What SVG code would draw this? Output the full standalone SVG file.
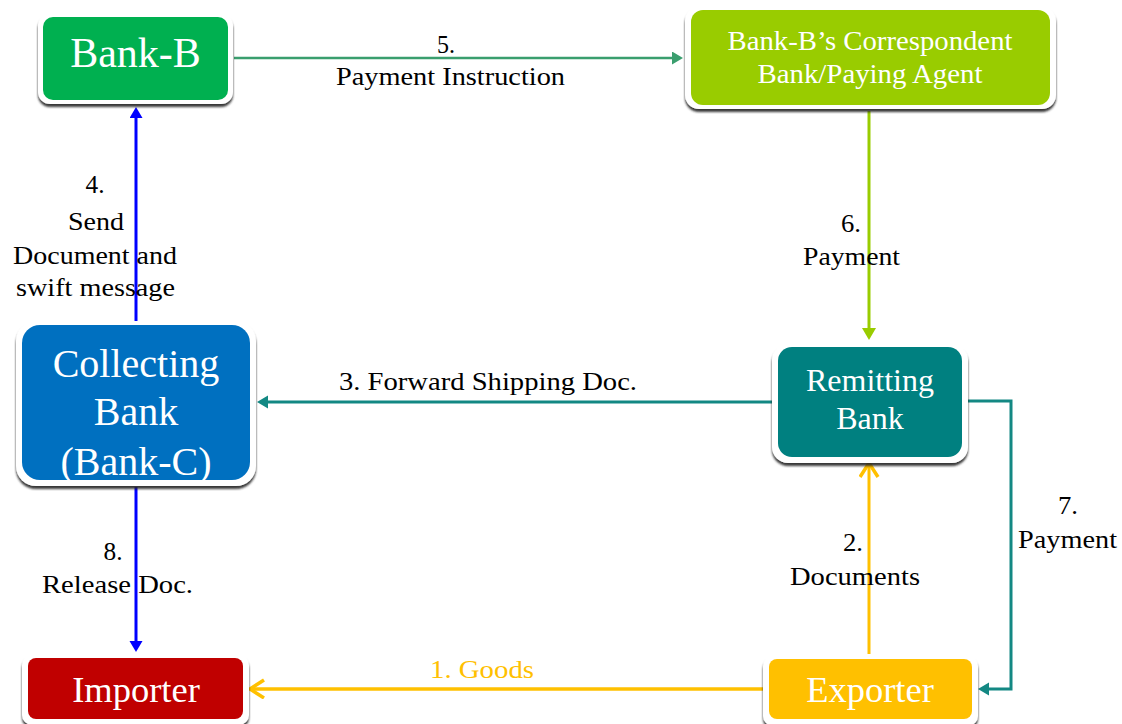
<svg xmlns="http://www.w3.org/2000/svg" width="1122" height="724" viewBox="0 0 1122 724">
<style>
text{font-family:"Liberation Serif","Times New Roman",serif;text-anchor:middle}
.nt{fill:#fff}
.lb{fill:#000;font-size:26px}
.frame{fill:#fff;filter:url(#sh)}
.c{fill:none}
</style>
<defs>
<filter id="sh" x="-10%" y="-10%" width="120%" height="130%">
<feDropShadow dx="0" dy="3" stdDeviation="1.2" flood-color="#222" flood-opacity="0.9"/>
</filter>
<marker id="aGreen" markerUnits="userSpaceOnUse" markerWidth="14" markerHeight="14" refX="7" refY="6.5" orient="auto"><path d="M0,0 L11,6.5 L0,13 z" fill="#3A9E6E"/></marker>
<marker id="aBlue" markerUnits="userSpaceOnUse" markerWidth="14" markerHeight="14" refX="7" refY="6.5" orient="auto"><path d="M0,0 L11,6.5 L0,13 z" fill="#0000FF"/></marker>
<marker id="aLime" markerUnits="userSpaceOnUse" markerWidth="16" markerHeight="16" refX="8" refY="7" orient="auto"><path d="M0,0 L12,7 L0,14 z" fill="#99CC00"/></marker>
<marker id="aTeal" markerUnits="userSpaceOnUse" markerWidth="14" markerHeight="14" refX="7" refY="6.5" orient="auto"><path d="M0,0 L11,6.5 L0,13 z" fill="#138883"/></marker>
<marker id="aGold" markerUnits="userSpaceOnUse" markerWidth="22" markerHeight="22" refX="15" refY="10" orient="auto"><path d="M1,1 L15,10 L1,19" fill="none" stroke="#FFC000" stroke-width="3.5"/></marker>
</defs>
<rect width="1122" height="724" fill="#fff"/>

<g id="connectors" class="c">
<path id="c5" d="M234 58 H679" stroke="#3A9E6E" stroke-width="2.5" marker-end="url(#aGreen)"/>
<path id="c4" d="M136 321 V111" stroke="#0000FF" stroke-width="3" marker-end="url(#aBlue)"/>
<path id="c6" d="M869 111 V336" stroke="#99CC00" stroke-width="3" marker-end="url(#aLime)"/>
<path id="c3" d="M772 402 H261" stroke="#138883" stroke-width="3" marker-end="url(#aTeal)"/>
<path id="c7" d="M968 401 H1011 V689 H982" stroke="#138883" stroke-width="3" marker-end="url(#aTeal)"/>
<path id="c2" d="M869 654 V463" stroke="#FFC000" stroke-width="3" marker-end="url(#aGold)"/>
<path id="c8" d="M136 487 V648" stroke="#0000FF" stroke-width="3" marker-end="url(#aBlue)"/>
<path id="c1" d="M763 689 H250" stroke="#FFC000" stroke-width="3.5" marker-end="url(#aGold)"/>
</g>

<g id="labels">
<text class="lb" x="446" y="53" textLength="18" lengthAdjust="spacingAndGlyphs">5.</text>
<text class="lb" x="450.5" y="85" textLength="229" lengthAdjust="spacingAndGlyphs">Payment Instruction</text>
<text class="lb" x="95" y="193" textLength="19" lengthAdjust="spacingAndGlyphs">4.</text>
<text class="lb" x="96" y="230" textLength="56" lengthAdjust="spacingAndGlyphs">Send</text>
<text class="lb" x="95" y="264" textLength="164" lengthAdjust="spacingAndGlyphs">Document and</text>
<text class="lb" x="95.5" y="296" textLength="159" lengthAdjust="spacingAndGlyphs">swift message</text>
<text class="lb" x="851" y="232" textLength="20" lengthAdjust="spacingAndGlyphs">6.</text>
<text class="lb" x="851.5" y="265" textLength="97" lengthAdjust="spacingAndGlyphs">Payment</text>
<text class="lb" x="488" y="390" textLength="298" lengthAdjust="spacingAndGlyphs">3. Forward Shipping Doc.</text>
<text class="lb" x="1068" y="514" textLength="20" lengthAdjust="spacingAndGlyphs">7.</text>
<text class="lb" x="1067.5" y="548" textLength="99" lengthAdjust="spacingAndGlyphs">Payment</text>
<text class="lb" x="853" y="551" textLength="20" lengthAdjust="spacingAndGlyphs">2.</text>
<text class="lb" x="855" y="585" textLength="130" lengthAdjust="spacingAndGlyphs">Documents</text>
<text class="lb" x="113" y="560" textLength="19" lengthAdjust="spacingAndGlyphs">8.</text>
<text class="lb" x="117.5" y="593" textLength="151" lengthAdjust="spacingAndGlyphs">Release Doc.</text>
<text class="lb" x="482" y="678" textLength="104" lengthAdjust="spacingAndGlyphs" style="fill:#FFC000">1. Goods</text>
</g>

<g id="bankB">
<rect class="frame" x="38" y="14" width="195" height="90" rx="12"/>
<rect x="43" y="17" width="185" height="83" rx="10" fill="#00B050"/>
<text class="nt" x="135.5" y="67" font-size="42">Bank-B</text>
</g>

<g id="correspondent">
<rect class="frame" x="685" y="7" width="371" height="102" rx="14"/>
<rect x="691" y="10" width="359" height="95" rx="12" fill="#99CC00"/>
<text class="nt" x="870" y="50" font-size="27" textLength="285" lengthAdjust="spacingAndGlyphs">Bank-B’s Correspondent</text>
<text class="nt" x="870" y="83" font-size="27" textLength="225" lengthAdjust="spacingAndGlyphs">Bank/Paying Agent</text>
</g>

<g id="collecting">
<rect class="frame" x="16" y="321" width="240" height="165" rx="20"/>
<rect x="22" y="325" width="228" height="155" rx="18" fill="#0070C0"/>
<text class="nt" x="136" y="377" font-size="40">Collecting</text>
<text class="nt" x="136" y="425" font-size="40">Bank</text>
<text class="nt" x="136" y="475" font-size="40">(Bank-C)</text>
</g>

<g id="remitting">
<rect class="frame" x="772" y="344" width="196" height="119" rx="16"/>
<rect x="778" y="347" width="184" height="110" rx="14" fill="#008080"/>
<text class="nt" x="870" y="391" font-size="32">Remitting</text>
<text class="nt" x="870" y="429" font-size="32">Bank</text>
</g>

<g id="exporter">
<rect class="frame" x="763" y="656" width="215" height="70" rx="10"/>
<rect x="769" y="659" width="203" height="60" rx="8" fill="#FFC000"/>
<text class="nt" x="870" y="702" font-size="36.5">Exporter</text>
</g>

<g id="importer">
<rect class="frame" x="22" y="655" width="227" height="70" rx="10"/>
<rect x="28" y="658" width="215" height="61" rx="8" fill="#C00000"/>
<text class="nt" x="136" y="702" font-size="36.5">Importer</text>
</g>
</svg>
